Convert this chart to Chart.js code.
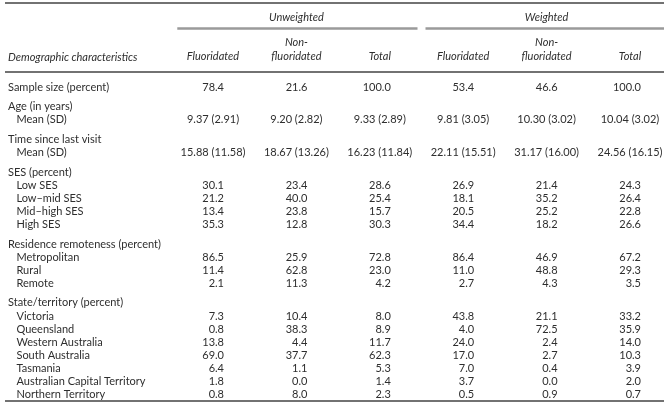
<!DOCTYPE html>
<html>
<head>
<meta charset="utf-8">
<script src="https://cdn.jsdelivr.net/npm/chart.js@4.4.1/dist/chart.umd.min.js"></script>
<style>
html,body{margin:0;padding:0;background:#fff;}
#wrap{width:669px;height:408px;position:relative;}
</style>
</head>
<body>
<div id="wrap"><canvas id="tabela"></canvas></div>
<script>
// ==========================================================
// Dados da tabela
// ==========================================================

const COLUMNS = ["Fluoridated", ["Non-", "fluoridated"], "Total", "Fluoridated", ["Non-", "fluoridated"], "Total"];
const GROUPS = ["Unweighted", "Weighted"];

const SAMPLE_SIZE = [78.4, 21.6, 100.0, 53.4, 46.6, 100.0];

const AGE_MEAN = [9.37, 9.20, 9.33, 9.81, 10.30, 10.04];
const AGE_SD = [2.91, 2.82, 2.89, 3.05, 3.02, 3.02];

const VISIT_MEAN = [15.88, 18.67, 16.23, 22.11, 31.17, 24.56];
const VISIT_SD = [11.58, 13.26, 11.84, 15.51, 16.00, 16.15];

const SES_LABELS = ["Low SES", "Low\u2013mid SES", "Mid\u2013high SES", "High SES"];
const SES_PCT = [
    [30.1, 23.4, 28.6, 26.9, 21.4, 24.3],
    [21.2, 40.0, 25.4, 18.1, 35.2, 26.4],
    [13.4, 23.8, 15.7, 20.5, 25.2, 22.8],
    [35.3, 12.8, 30.3, 34.4, 18.2, 26.6]
];

const REMOTE_LABELS = ["Metropolitan", "Rural", "Remote"];
const REMOTE_PCT = [
    [86.5, 25.9, 72.8, 86.4, 46.9, 67.2],
    [11.4, 62.8, 23.0, 11.0, 48.8, 29.3],
    [2.1, 11.3, 4.2, 2.7, 4.3, 3.5]
];

const STATE_LABELS = ["Victoria", "Queensland", "Western Australia", "South Australia", "Tasmania", "Australian Capital Territory", "Northern Territory"];
const STATE_PCT = [
    [7.3, 10.4, 8.0, 43.8, 21.1, 33.2],
    [0.8, 38.3, 8.9, 4.0, 72.5, 35.9],
    [13.8, 4.4, 11.7, 24.0, 2.4, 14.0],
    [69.0, 37.7, 62.3, 17.0, 2.7, 10.3],
    [6.4, 1.1, 5.3, 7.0, 0.4, 3.9],
    [1.8, 0.0, 1.4, 3.7, 0.0, 2.0],
    [0.8, 8.0, 2.3, 0.5, 0.9, 0.7]
];

// ==========================================================
// Estilo
// ==========================================================

const FONTE = "Lato";
const COR_TEXTO = "#2e2e2e";
const GAP = 0.5;

// ==========================================================
// Montagem das linhas
// ==========================================================

const linhas = [];
let pos = 0;

function addLinha(label, indent, textos, tipo){
    linhas.push({label, indent, y: pos, textos, tipo});
    pos += 1;
}

function pct(v){ return v.toFixed(1); }

function media(m, sd){ return m.map((v, i)=>v.toFixed(2) + " (" + sd[i].toFixed(2) + ")"); }

addLinha("Sample size (percent)", false, SAMPLE_SIZE.map(pct), "pct");
pos += GAP;
addLinha("Age (in years)", false, null);
addLinha("Mean (SD)", true, media(AGE_MEAN, AGE_SD), "mean");
pos += GAP;
addLinha("Time since last visit", false, null);
addLinha("Mean (SD)", true, media(VISIT_MEAN, VISIT_SD), "mean");
pos += GAP;
addLinha("SES (percent)", false, null);
SES_LABELS.forEach((l, i)=>addLinha(l, true, SES_PCT[i].map(pct), "pct"));
pos += GAP;
addLinha("Residence remoteness (percent)", false, null);
REMOTE_LABELS.forEach((l, i)=>addLinha(l, true, REMOTE_PCT[i].map(pct), "pct"));
pos += GAP;
addLinha("State/territory (percent)", false, null);
STATE_LABELS.forEach((l, i)=>addLinha(l, true, STATE_PCT[i].map(pct), "pct"));

const datasets = COLUMNS.map((c, col)=>({
    data: linhas.filter(l=>l.textos).map(l=>({x: col, y: l.y, texto: l.textos[col], tipo: l.tipo})),
    pointRadius: 0,
    pointHoverRadius: 0,
    showLine: false
}));

// ==========================================================
// PLUGIN: textos e linhas da tabela
// ==========================================================

const tabelaPlugin = {

    id: "tabela",

    afterDraw(chart){

        const {ctx, chartArea, scales} = chart;
        const x = scales.x;
        const passo = x.getPixelForValue(1) - x.getPixelForValue(0);
        const esq = 5;
        const dir = chart.width - 5;

        ctx.save();

        // valores
        ctx.font = "11px " + FONTE;
        ctx.fillStyle = COR_TEXTO;
        ctx.textBaseline = "middle";

        chart.data.datasets.forEach((ds, i)=>{
            const meta = chart.getDatasetMeta(i);
            meta.data.forEach((el, j)=>{
                const p = ds.data[j];
                if(p.tipo === "mean"){
                    ctx.textAlign = "center";
                    ctx.fillText(p.texto, el.x, el.y);
                } else {
                    ctx.textAlign = "right";
                    ctx.fillText(p.texto, el.x + 11, el.y);
                }
            });
        });

        // cabeçalhos
        ctx.font = "italic 11px " + FONTE;
        ctx.textAlign = "center";
        ctx.fillText(GROUPS[0], (x.getPixelForValue(0) + x.getPixelForValue(2)) / 2, 17);
        ctx.fillText(GROUPS[1], (x.getPixelForValue(3) + x.getPixelForValue(5)) / 2, 17);
        ctx.textAlign = "left";
        ctx.fillText("Demographic characteristics", 8, 57);

        // linhas
        ctx.strokeStyle = "#444";
        ctx.lineWidth = 1.5;
        ctx.beginPath();
        ctx.moveTo(esq, 3); ctx.lineTo(dir, 3);
        ctx.moveTo(esq, chartArea.top - 2); ctx.lineTo(dir, chartArea.top - 2);
        ctx.moveTo(esq, chartArea.bottom); ctx.lineTo(dir, chartArea.bottom);
        ctx.stroke();

        ctx.strokeStyle = "#9a9a9a";
        ctx.lineWidth = 2.5;
        ctx.beginPath();
        ctx.moveTo(x.getPixelForValue(0) - passo / 2 + 6, 28.5);
        ctx.lineTo(x.getPixelForValue(2) + passo / 2 - 4, 28.5);
        ctx.moveTo(x.getPixelForValue(3) - passo / 2 + 4, 28.5);
        ctx.lineTo(dir, 28.5);
        ctx.stroke();

        ctx.restore();

    }

};

// ==========================================================
// Gráfico
// ==========================================================

new Chart(document.getElementById("tabela"), {

    type: "scatter",

    data: {
        datasets: datasets
    },

    options: {

        responsive: true,
        maintainAspectRatio: false,
        animation: false,

        layout: {
            padding: {left: 8, right: 39, top: 0, bottom: 7}
        },

        plugins: {
            legend: {display: false},
            tooltip: {enabled: false}
        },

        events: [],

        scales: {

            x: {
                type: "linear",
                position: "top",
                min: 0,
                max: COLUMNS.length - 1,
                afterBuildTicks: axis=>{ axis.ticks = COLUMNS.map((c, i)=>({value: i})); },
                afterFit: axis=>{ axis.height = 74; },
                grid: {display: false, drawTicks: false},
                border: {display: false},
                ticks: {
                    padding: 10,
                    color: COR_TEXTO,
                    font: {family: FONTE, size: 11, style: "italic", lineHeight: 1.3},
                    maxRotation: 0,
                    autoSkip: false,
                    callback: (v, i)=>COLUMNS[i]
                }
            },

            y: {
                type: "linear",
                reverse: true,
                min: -1,
                max: 24.0,
                afterBuildTicks: axis=>{ axis.ticks = linhas.map(l=>({value: l.y})); },
                afterFit: axis=>{ axis.width = 205; },
                grid: {display: false},
                border: {display: false},
                ticks: {
                    autoSkip: false,
                    crossAlign: "far",
                    padding: 0,
                    color: COR_TEXTO,
                    font: {family: FONTE, size: 11},
                    callback: (v, i)=>{
                        const l = linhas[i];
                        if(!l) return "";
                        return (l.indent ? "   " : "") + l.label;
                    }
                }
            }

        }

    },

    plugins: [tabelaPlugin]

});
</script>
</body>
</html>
